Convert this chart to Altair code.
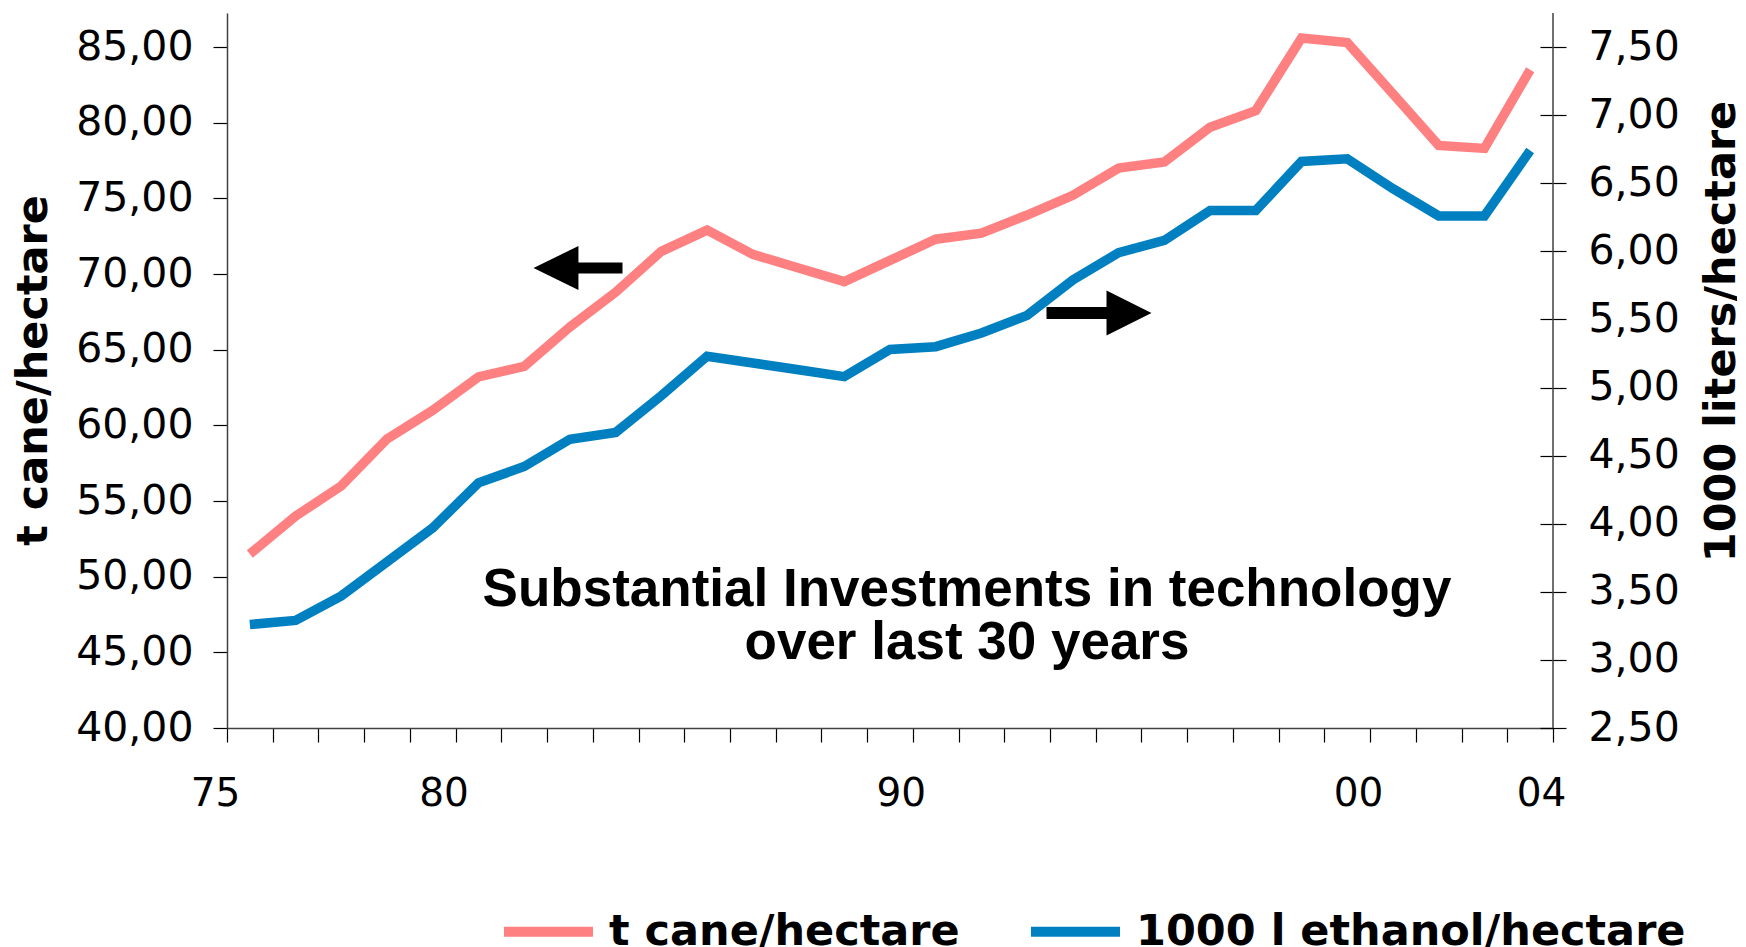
import altair as alt
import pandas as pd

# ---- data ----
years = list(range(1976, 2005))
cane_t_per_ha = [51.5, 54.0, 56.0, 59.1, 61.0, 63.2, 63.9, 66.5, 68.8, 71.5,
                 72.9, 71.3, 70.4, 69.5, 70.9, 72.3, 72.7, 73.9, 75.2, 77.0,
                 77.4, 79.7, 80.8, 85.6, 85.3, 81.9, 78.5, 78.3, 83.5]
ethanol_kl_per_ha = [3.26, 3.29, 3.47, 3.72, 3.97, 4.30, 4.42, 4.62, 4.67, 4.94,
                     5.23, 5.18, 5.13, 5.08, 5.28, 5.30, 5.40, 5.53, 5.79, 5.99,
                     6.08, 6.30, 6.30, 6.66, 6.68, 6.46, 6.26, 6.26, 6.74]
series_names = ["t cane/hectare", "1000 l ethanol/hectare"]
series_colors = ["#FF8080", "#0080C0"]
left_ticks = [40, 45, 50, 55, 60, 65, 70, 75, 80, 85]
right_ticks = [2.5, 3.0, 3.5, 4.0, 4.5, 5.0, 5.5, 6.0, 6.5, 7.0, 7.5]
year_labels = {1975: "75", 1980: "80", 1990: "90", 2000: "00", 2004: "04"}
left_title = "t cane/hectare"
right_title = "1000 liters/hectare"
annotation_lines = ["Substantial Investments in technology", "over last 30 years"]

rows = []
for y, v in zip(years, cane_t_per_ha):
    rows.append({"year": y, "value": v, "series": series_names[0]})
for y, v in zip(years, ethanol_kl_per_ha):
    rows.append({"year": y, "value": v, "series": series_names[1]})
df = pd.DataFrame(rows)

# category boundaries (ticks between years)
x_tick_values = [y - 0.5 for y in range(years[0], years[-1] + 2)]
label_expr = " : ".join(
    f"datum.value == {y + 0.5} ? '{lab}'" for y, lab in year_labels.items()
) + " : ''"
comma_expr = "replace(format(datum.value, '.2f'), '.', ',')"

W, H = 1326, 715

x_enc = alt.X(
    "year:Q",
    scale=alt.Scale(domain=[years[0] - 0.5, years[-1] + 0.5], nice=False, zero=False),
    axis=alt.Axis(
        values=x_tick_values, labelExpr=label_expr, labelOffset=-12,
        tickSize=14, tickColor="black", tickWidth=1.2,
        domainColor="#404040", domainWidth=1.5,
        labelFont="DejaVu Sans", labelFontSize=39, labelColor="black",
        labelBaseline="alphabetic", labelPadding=63,
        labelFlush=False, labelOverlap=False, labelBound=False,
        grid=False, title=None,
    ),
)

color_enc = alt.Color(
    "series:N",
    scale=alt.Scale(domain=series_names, range=series_colors),
    legend=alt.Legend(
        orient="none", legendX=272, legendY=869, direction="horizontal",
        title=None, symbolType="stroke", symbolStrokeWidth=10, symbolSize=7921,
        labelFont="DejaVu Sans", labelFontWeight="bold", labelFontSize=43,
        labelColor="black", labelOffset=11, columnPadding=51, padding=0,
        labelLimit=2000,
    ),
)

cane_line = alt.Chart(df).transform_filter(
    alt.datum.series == series_names[0]
).mark_line(strokeWidth=9.5).encode(
    x=x_enc,
    y=alt.Y(
        "value:Q",
        scale=alt.Scale(domain=[40, 87.25], nice=False, zero=False),
        axis=alt.Axis(
            orient="left", values=left_ticks, labelExpr=comma_expr,
            tickSize=14, tickColor="black", tickWidth=1.2,
            domainColor="#404040", domainWidth=1.5,
            labelPadding=20, labelFont="DejaVu Sans", labelFontSize=41,
            labelColor="black", grid=False,
            title=left_title, titleFont="DejaVu Sans", titleFontWeight="bold",
            titleFontSize=43, titleColor="black", titleAngle=270,
            titleX=-181, titleY=357, titleAlign="center", titleBaseline="alphabetic",
        ),
    ),
    color=color_enc,
)

eth_line = alt.Chart(df).transform_filter(
    alt.datum.series == series_names[1]
).mark_line(strokeWidth=9.5).encode(
    x=x_enc,
    y=alt.Y(
        "value:Q",
        scale=alt.Scale(domain=[2.5, 7.75], nice=False, zero=False),
        axis=alt.Axis(
            orient="right", values=right_ticks, labelExpr=comma_expr,
            offset=-13, tickSize=26, tickColor="black", tickWidth=1.2,
            domain=False,
            labelPadding=22, labelFont="DejaVu Sans", labelFontSize=41,
            labelColor="black", grid=False,
            title=right_title, titleFont="DejaVu Sans", titleFontWeight="bold",
            titleFontSize=43, titleColor="black", titleAngle=270,
            titleX=194, titleY=318, titleAlign="center", titleBaseline="alphabetic",
        ),
    ),
    color=color_enc,
)

one = alt.Data(values=[{}])

right_domain = alt.Chart(one).mark_rule(color="#404040", strokeWidth=1.5).encode(
    x=alt.value(W), y=alt.value(0), y2=alt.value(H)
)

annotation = alt.Chart(one).mark_text(
    font="Liberation Sans", fontWeight="bold", fontSize=53, lineHeight=53,
    align="center", baseline="alphabetic", color="black",
).encode(x=alt.value(740), y=alt.value(593), text=alt.value(annotation_lines))

left_arrow_shape = "M1,-0.124 L0.01,-0.124 L0.01,-0.494 L-1,0 L0.01,0.494 L0.01,0.124 L1,0.124 Z"
right_arrow_shape = "M-1,-0.114 L0.143,-0.114 L0.143,-0.43 L1,0 L0.143,0.43 L0.143,0.114 L-1,0.114 Z"

left_arrow = alt.Chart(one).mark_point(
    shape=left_arrow_shape, filled=True, color="black", opacity=1, size=7921, strokeWidth=0
).encode(x=alt.value(351), y=alt.value(255))

right_arrow = alt.Chart(one).mark_point(
    shape=right_arrow_shape, filled=True, color="black", opacity=1, size=11025, strokeWidth=0
).encode(x=alt.value(872), y=alt.value(300))

chart = alt.layer(
    cane_line, eth_line, right_domain, annotation, left_arrow, right_arrow
).resolve_scale(y="independent").properties(
    width=W, height=H,
    autosize=alt.AutoSizeParams(type="none"),
    padding={"left": 219, "top": 5, "right": 184, "bottom": 219},
).configure_view(stroke=None)

chart.save("out.html", embed_options={"renderer": "svg", "actions": False})
